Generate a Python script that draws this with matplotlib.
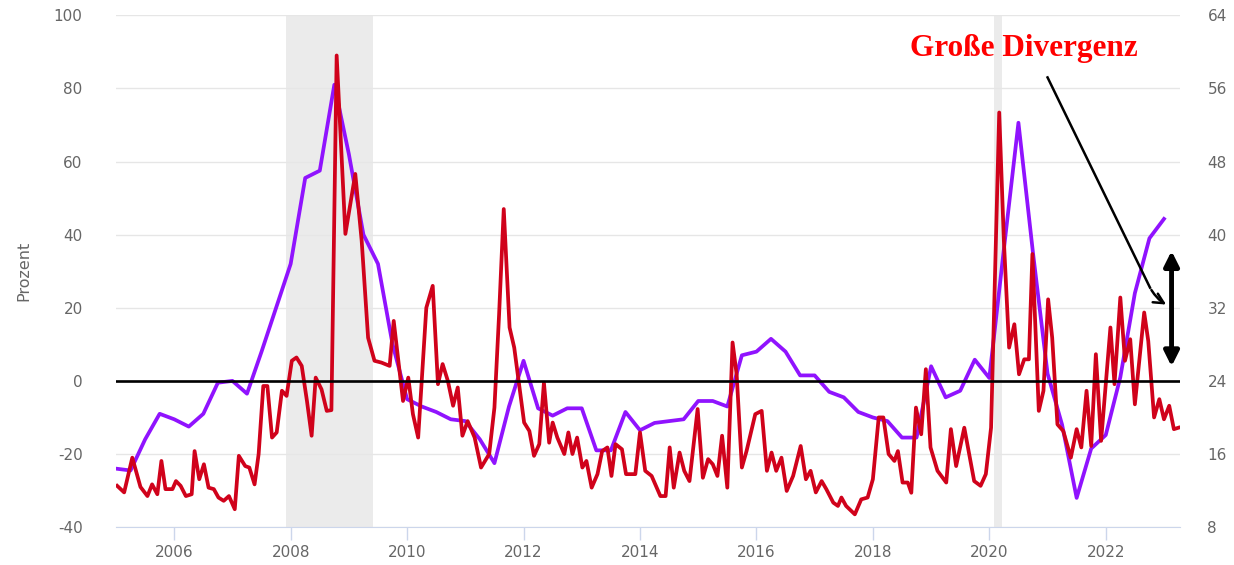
import matplotlib
matplotlib.use("Agg")
import matplotlib.pyplot as plt

plt.rcParams["axes.unicode_minus"] = False

# purple series, quarterly
purple_dates = [2005.00 + 0.25 * i for i in range(73)]
purple_values = [
    -24, -24.5, -16, -9, -10.5, -12.5, -9, -0.5,
    0, -3.5, 8, 20, 32, 55.5, 57.5, 81,
    62, 40, 32, 10, -5, -7, -8.5, -10.5,
    -11, -16, -22.5, -7, 5.5, -7.5, -9.5, -7.5,
    -7.5, -19, -19, -8.5, -13.5, -11.5, -11, -10.5,
    -5.5, -5.5, -7, 7, 8, 11.5, 8, 1.5,
    1.5, -3, -4.5, -8.5, -10, -11, -15.5, -15.5,
    4, -4.5, -2.7, 5.8, 0.8, 36, 70.6, 35,
    2, -12, -32, -18.5, -14.8, 1, 24, 39, 44.3,
]

# red series
red_dates = [
    2005.02, 2005.14, 2005.28, 2005.42, 2005.54, 2005.62, 2005.71, 2005.78,
    2005.85, 2005.97, 2006.03, 2006.11, 2006.20, 2006.30, 2006.35, 2006.43,
    2006.51, 2006.59, 2006.68, 2006.76, 2006.85, 2006.94, 2007.04, 2007.11,
    2007.22, 2007.29, 2007.38, 2007.45, 2007.53, 2007.60, 2007.68, 2007.76,
    2007.85, 2007.93, 2008.02, 2008.10, 2008.19, 2008.28, 2008.36, 2008.43,
    2008.53, 2008.62, 2008.70, 2008.79, 2008.94, 2009.11, 2009.22, 2009.33,
    2009.44, 2009.56, 2009.70, 2009.77, 2009.93, 2010.02, 2010.10, 2010.19,
    2010.33, 2010.44, 2010.53, 2010.61, 2010.70, 2010.79, 2010.87, 2010.95,
    2011.04, 2011.16, 2011.27, 2011.41, 2011.50, 2011.58, 2011.66, 2011.76,
    2011.84, 2012.01, 2012.10, 2012.18, 2012.27, 2012.35, 2012.44, 2012.50,
    2012.58, 2012.70, 2012.77, 2012.84, 2012.92, 2013.01, 2013.08, 2013.17,
    2013.27, 2013.35, 2013.44, 2013.51, 2013.58, 2013.69, 2013.76, 2013.92,
    2014.00, 2014.09, 2014.20, 2014.35, 2014.44, 2014.51, 2014.58, 2014.68,
    2014.76, 2014.85, 2014.99, 2015.08, 2015.17, 2015.25, 2015.33, 2015.41,
    2015.50, 2015.59, 2015.66, 2015.75, 2015.83, 2015.98, 2016.09, 2016.18,
    2016.26, 2016.34, 2016.43, 2016.52, 2016.63, 2016.76, 2016.85, 2016.93,
    2017.02, 2017.12, 2017.20, 2017.32, 2017.40, 2017.46, 2017.54, 2017.69,
    2017.80, 2017.91, 2018.00, 2018.10, 2018.18, 2018.27, 2018.37, 2018.43,
    2018.51, 2018.60, 2018.66, 2018.74, 2018.83, 2018.91, 2018.99, 2019.11,
    2019.26, 2019.34, 2019.43, 2019.57, 2019.74, 2019.85, 2019.94, 2020.03,
    2020.17, 2020.25, 2020.34, 2020.43, 2020.51, 2020.60, 2020.68, 2020.74,
    2020.85, 2020.93, 2021.01, 2021.08, 2021.17, 2021.27, 2021.40, 2021.50,
    2021.58, 2021.67, 2021.75, 2021.83, 2021.92, 2022.08, 2022.15, 2022.25,
    2022.33, 2022.42, 2022.50, 2022.66, 2022.73, 2022.83, 2022.92, 2023.00,
    2023.09, 2023.17, 2023.25,
]
red_values = [
    -28.7, -30.5, -21, -29, -31.5, -28.3, -31, -21.9,
    -29.6, -29.6, -27.4, -28.7, -31.5, -31, -19.2, -26.9,
    -22.8, -29.2, -29.6, -31.9, -32.8, -31.5, -35.1, -20.5,
    -23.3, -23.7, -28.3, -20, -1.4, -1.4, -15.5, -14.1,
    -2.7, -4.1, 5.5, 6.4, 4.1, -5.5, -15, 0.9,
    -2.3, -8.2, -8, 89, 40.2, 56.6, 38.3, 11.8,
    5.5, 5, 4.1, 16.4, -5.5, 0.9, -9.1, -15.5,
    20, 26, -0.9, 4.6, 0, -6.8, -1.8, -15,
    -11, -15.5, -23.7, -20, -7.3, 18.2, 47, 14.6,
    9.1, -11.4, -13.7, -20.5, -17.3, -0.5, -16.9, -11.4,
    -15.5, -20, -14.1, -20, -15.5, -23.7, -21.9, -29.2,
    -25.5, -19.2, -18.2, -26, -17.3, -18.7, -25.5, -25.5,
    -14.1, -24.6, -26, -31.5, -31.5, -18.2, -29.2, -19.6,
    -24.6, -27.4, -7.7, -26.5, -21.4, -22.8, -26, -15,
    -29.2, 10.5, 1.8, -23.7, -19.2, -9.1, -8.2, -24.6,
    -19.6, -24.6, -21, -30.1, -26, -17.8, -26.9, -24.6,
    -30.5, -27.4, -29.6, -33.3, -34.2, -31.9, -34.2, -36.5,
    -32.4, -31.9, -26.9, -10, -10, -20, -21.9, -19.2,
    -27.8, -27.8, -30.6, -7.3, -14.6, 3.2, -18.2, -24.6,
    -27.8, -13.2, -23.3, -12.8, -27.4, -28.7, -25.5, -12.8,
    73.4, 38.3, 9.1, 15.5, 1.8, 5.9, 5.9, 34.7,
    -8.2, -2.7, 22.3, 11.8, -11.9, -13.7, -21, -13.2,
    -18.2, -2.7, -17.8, 7.3, -16.4, 14.6, -0.9, 22.8,
    5.5, 11.4, -6.4, 18.7, 10.9, -10, -5, -10.5,
    -6.8, -13.2, -12.8,
]

recessions = [(2007.92, 2009.42), (2020.08, 2020.22)]
x_ticks = [2006, 2008, 2010, 2012, 2014, 2016, 2018, 2020, 2022]
left_ticks = [-40, -20, 0, 20, 40, 60, 80, 100]
right_ticks = [8, 16, 24, 32, 40, 48, 56, 64]

label_color = "#666666"

fig = plt.figure(figsize=(12.34, 5.65), dpi=100)
ax = fig.add_axes([0.094, 0.067, 0.862, 0.906])

for start, end in recessions:
    ax.axvspan(start, end, color="#ebebeb", lw=0, zorder=0)

ax.plot(purple_dates, purple_values, color="#9013fe", lw=2.7, zorder=3,
        solid_joinstyle="round")
ax.plot(red_dates, red_values, color="#d0021b", lw=2.7, zorder=4,
        solid_joinstyle="round")
ax.axhline(0, color="black", lw=1.9, zorder=5)

ax.set_xlim(2005.0, 2023.27)
ax.set_ylim(-40, 100)
ax.set_xticks(x_ticks)
ax.set_yticks(left_ticks)
ax.grid(axis="y", color="#e6e6e6", lw=1)
ax.set_axisbelow(True)
for side in ["top", "right", "left"]:
    ax.spines[side].set_visible(False)
ax.spines["bottom"].set_color("#ccd6eb")
ax.tick_params(axis="x", colors="#ccd6eb", length=9, width=1,
               labelcolor=label_color, labelsize=11, pad=4)
ax.tick_params(axis="y", length=0, labelcolor=label_color, labelsize=11,
               pad=24)
ax.set_ylabel("Prozent", color=label_color, fontsize=11.5, labelpad=16)

ax2 = ax.twinx()
ax2.set_ylim(8, 64)
ax2.set_yticks(right_ticks)
for side in ["top", "right", "left", "bottom"]:
    ax2.spines[side].set_visible(False)
ax2.tick_params(axis="y", length=0, labelcolor=label_color, labelsize=11,
                pad=20)

# annotation
ax.text(2020.6, 91, "Große Divergenz", color="#ff0000", fontsize=22.5,
        fontweight="bold", family="Liberation Serif", ha="center",
        va="center", zorder=6)
ax.plot([2021.0, 2022.76], [83, 25.5], color="black", lw=1.8, zorder=6)
ax.annotate("", xy=(2023.08, 20.5), xytext=(2022.76, 25.5),
            arrowprops=dict(arrowstyle="->", color="black", lw=1.8,
                            mutation_scale=18,
                            connectionstyle="arc3,rad=0.15"),
            zorder=6)
ax.annotate("", xy=(2023.13, 36.3), xytext=(2023.13, 3.2),
            arrowprops=dict(arrowstyle="<|-|>", color="black", lw=3.5,
                            mutation_scale=22),
            zorder=6)

fig.savefig("out.png", dpi=100)
